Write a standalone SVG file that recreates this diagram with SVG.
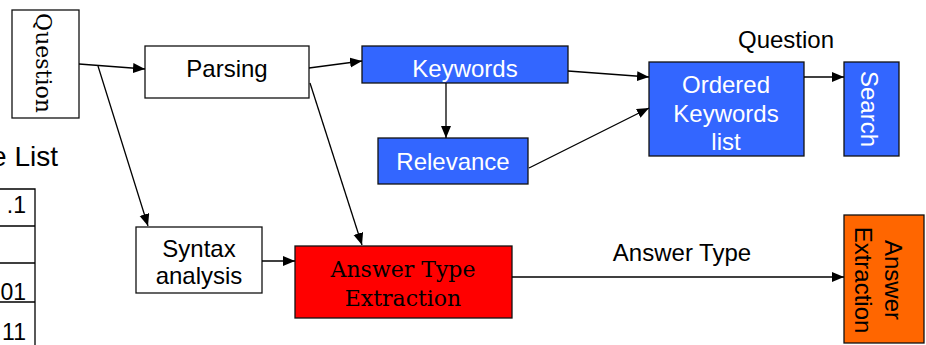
<svg xmlns="http://www.w3.org/2000/svg" width="926" height="345" viewBox="0 0 926 345">
<style>
.box{stroke:#111;stroke-width:1.3}
.w{fill:#fff}
.b{fill:#3366FF}
.r{fill:#FF0000}
.o{fill:#FF6600}
.sans{font-family:"Liberation Sans",Arial,sans-serif;font-size:24px}
.serif{font-family:"DejaVu Serif",serif;font-size:22px}
.num{font-family:"Liberation Sans",Arial,sans-serif;font-size:23px;text-anchor:end}
.wt{fill:#fff}
.bt{fill:#000}
.c{text-anchor:middle}
.ln{stroke:#000;stroke-width:1.3;fill:none}
</style>
<defs>
<marker id="ah" markerUnits="userSpaceOnUse" markerWidth="13" markerHeight="11" refX="12" refY="5" orient="auto">
<path d="M0,0 L12,5 L0,10 z" fill="#000"/>
</marker>
</defs>
<g id="partial-list">
<text x="58" y="166" font-family="Liberation Sans, Arial, sans-serif" font-size="28" text-anchor="end">e List</text>
<path class="ln" d="M0,189 H35 V345 M0,226 H35 M0,263 H35 M0,302 H35"/>
<text x="26" y="213" class="num">.1</text>
<text x="26" y="300" class="num">01</text>
<text x="26" y="340" class="num">11</text>
</g>
<g id="question">
<rect class="box w" x="12" y="10" width="67" height="108"/>
<text class="serif c bt" transform="translate(36,63) rotate(90)">Question</text>
</g>
<g id="parsing">
<rect class="box w" x="145" y="46" width="164" height="52"/>
<text class="sans c bt" x="227" y="77">Parsing</text>
</g>
<g id="syntax">
<rect class="box w" x="136" y="227" width="126" height="66"/>
<text class="sans c bt" x="199" y="257">Syntax</text>
<text class="sans c bt" x="199" y="284">analysis</text>
</g>
<g id="keywords">
<rect class="box b" x="362" y="46" width="206" height="37"/>
<text class="sans c wt" x="465" y="77">Keywords</text>
</g>
<g id="relevance">
<rect class="box b" x="378" y="138" width="150" height="46"/>
<text class="sans c wt" x="453" y="170">Relevance</text>
</g>
<g id="ordered">
<rect class="box b" x="649" y="62" width="155" height="94"/>
<text class="sans c wt" x="726" y="93">Ordered</text>
<text class="sans c wt" x="726" y="122">Keywords</text>
<text class="sans c wt" x="726" y="150">list</text>
</g>
<g id="search">
<rect class="box b" x="844" y="62" width="55" height="94"/>
<text class="sans c wt" transform="translate(861,109) rotate(90)">Search</text>
</g>
<g id="answer-type-extraction">
<rect class="box r" x="295" y="246" width="217" height="72"/>
<text class="serif c bt" x="403" y="277">Answer Type</text>
<text class="serif c bt" x="403" y="306">Extraction</text>
</g>
<g id="answer-extraction">
<rect class="box o" x="844" y="215" width="80" height="128"/>
<text class="sans c bt" transform="translate(885,280) rotate(90)">Answer</text>
<text class="sans c bt" transform="translate(855,280) rotate(90)">Extraction</text>
</g>
<g id="connectors">
<path class="ln" d="M79,64 L145,69" marker-end="url(#ah)"/>
<path class="ln" d="M98,66 L148,226" marker-end="url(#ah)"/>
<path class="ln" d="M309,68 L362,61" marker-end="url(#ah)"/>
<path class="ln" d="M310,83 L362,245" marker-end="url(#ah)"/>
<path class="ln" d="M262,261 L295,261" marker-end="url(#ah)"/>
<path class="ln" d="M446,83 L446,138" marker-end="url(#ah)"/>
<path class="ln" d="M568,71 L649,77" marker-end="url(#ah)"/>
<path class="ln" d="M529,168 L649,108" marker-end="url(#ah)"/>
<path class="ln" d="M804,77 L844,77" marker-end="url(#ah)"/>
<path class="ln" d="M512,277 L844,277" marker-end="url(#ah)"/>
<text class="sans c bt" x="682" y="261">Answer Type</text>
<text class="sans c bt" x="786" y="48">Question</text>
</g>
</svg>
